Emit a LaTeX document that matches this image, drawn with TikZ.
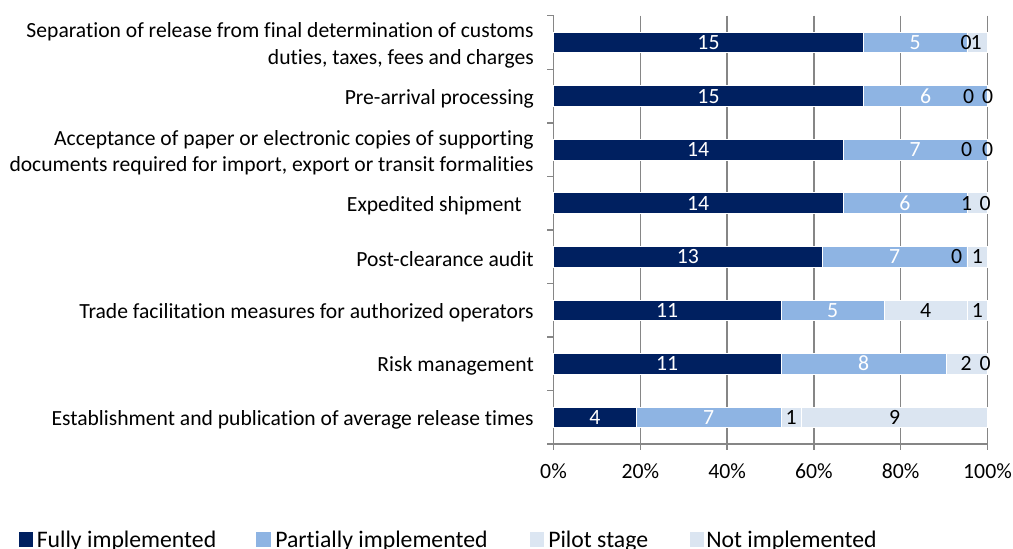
\documentclass[tikz,border=0pt]{standalone}
\usepackage{fontspec}
\setmainfont{Carlito}[Ligatures=NoCommon]
\usetikzlibrary{calc}
\definecolor{fullblue}{RGB}{0,32,96}
\definecolor{partblue}{RGB}{142,180,227}
\definecolor{pilotblue}{RGB}{220,230,242}
\definecolor{notblue}{RGB}{219,229,241}
\definecolor{gridgrey}{RGB}{134,134,134}
\begin{document}
\begin{tikzpicture}[x=0.75pt,y=-0.75pt,
  gridline/.style={draw=gridgrey, line width=1.1pt},
  seg/.style={draw=white, line width=0.5pt},
  catlab/.style={anchor=east, align=right, inner sep=0pt, font=\fontsize{16.2}{20}\selectfont},
  datlab/.style={anchor=base, inner sep=0pt, font=\fontsize{16.3}{20}\selectfont},
  ticklab/.style={anchor=base, inner sep=0pt, font=\fontsize{16.3}{20}\selectfont},
  legbox/.style={fill=#1, minimum size=10.9pt, inner sep=0pt},
  leglab/.style={anchor=base west, inner sep=0pt, font=\fontsize{17.8}{21}\selectfont}]
\useasboundingbox (0,0) rectangle (1013,549);
\def\unitw{20.6667}
%% gridlines
\foreach \k in {1,...,5}
  \draw[gridline] (553.5+86.8*\k,15.7) -- (553.5+86.8*\k,444);
%% axes and ticks
\draw[gridline] (553.5,15.7) -- (553.5,444) -- (987.5,444);
\foreach \k in {0,...,8}
  \draw[gridline] (547,15.7+53.54*\k) -- (553.5,15.7+53.54*\k);
\foreach \k in {0,...,5}{
  \draw[gridline] (553.5+86.8*\k,444) -- (553.5+86.8*\k,450);
  \pgfmathtruncatemacro\pc{20*\k}
  \node[ticklab] (t\k) at (553.5+86.8*\k,478) {\pc\%};
}
%% bars: index / fully / +partially / +pilot / x of pilot label / x of not label
\foreach \i/\a/\b/\c/\xc/\xd in {1/15/20/20/966/976, 2/15/21/21/968.7/987.7,
    3/14/21/21/966.7/987.7, 4/14/20/21/966.7/985, 5/13/20/20/956.7/977.3,
    6/11/16/20/925.6/977.3, 7/11/19/21/966/985, 8/4/11/12/791/894.5}{
  \pgfmathsetmacro\yc{42.5+53.54*(\i-1)}
  \pgfmathsetmacro\xa{553.5+\a*\unitw}
  \pgfmathsetmacro\xb{553.5+\b*\unitw}
  \pgfmathsetmacro\xx{553.5+\c*\unitw}
  \pgfmathsetmacro\ma{553.5+\a*\unitw/2}
  \pgfmathsetmacro\mb{553.5+(\a+\b)*\unitw/2}
  \pgfmathtruncatemacro\vb{\b-\a}
  \pgfmathtruncatemacro\vc{\c-\b}
  \pgfmathtruncatemacro\vd{21-\c}
  \path[seg,fill=fullblue] (553.5,\yc-10.3) rectangle (\xa,\yc+10.3);
  \path[seg,fill=partblue] (\xa,\yc-10.3) rectangle (\xb,\yc+10.3);
  \path[seg,fill=pilotblue] (\xb,\yc-10.3) rectangle (\xx,\yc+10.3);
  \path[seg,fill=notblue] (\xx,\yc-10.3) rectangle (987.5,\yc+10.3);
  \node[datlab,text=white] (f\i) at (\ma,\yc+7) {\a};
  \node[datlab,text=white] (p\i) at (\mb,\yc+7) {\vb};
  \node[datlab] (s\i) at (\xc,\yc+7) {\vc};
  \node[datlab] (n\i) at (\xd,\yc+7) {\vd};
}
%% category labels
\node[catlab] (c1) at (534,45.5) {Separation of release from final determination of customs\\duties, taxes, fees and charges};
\node[catlab] (c2) at (534,98.5) {Pre-arrival processing};
\node[catlab] (c3) at (534,152.6) {Acceptance of paper or electronic copies of supporting\\documents required for import, export or transit formalities};
\node[catlab] (c4) at (534,205.6) {Expedited shipment\hspace*{9pt}};
\node[catlab] (c5) at (534,258.7) {Post-clearance audit};
\node[catlab] (c6) at (534,312.7) {Trade facilitation measures for authorized operators};
\node[catlab] (c7) at (534,366.2) {Risk management};
\node[catlab] (c8) at (534,419.8) {Establishment and publication of average release times};
%% legend
\node[legbox=fullblue] (kf) at (25.8,539.3) {};
\node[leglab] (lf) at (36.5,547) {Fully implemented};
\node[legbox=partblue] (kp) at (263.7,539.3) {};
\node[leglab] (lp) at (275,547) {Partially implemented};
\node[legbox=pilotblue] (ks) at (537,539.3) {};
\node[leglab] (ls) at (548,547) {Pilot stage};
\node[legbox=notblue] (kn) at (697,539.3) {};
\node[leglab] (ln) at (706,547) {Not implemented};
\end{tikzpicture}
\end{document}
